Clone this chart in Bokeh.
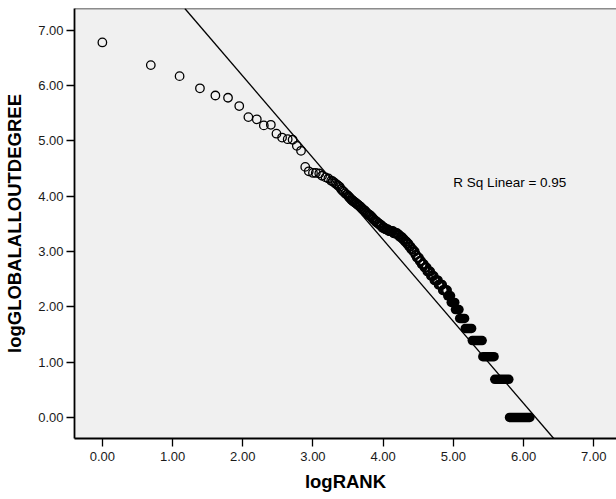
from bokeh.plotting import figure
from bokeh.models import FixedTicker, PrintfTickFormatter, Span, Slope, Label
from bokeh.embed import file_html
from bokeh.resources import INLINE

# ---- data (natural logs) ----
log_rank = [0.00, 0.69, 1.10, 1.39, 1.61, 1.79, 1.95, 2.08, 2.20, 2.30,
            2.40, 2.48, 2.56, 2.64, 2.71, 2.77, 2.83, 2.89, 2.94, 3.00,
            3.04, 3.09, 3.13, 3.18, 3.22, 3.26,
            3.28, 3.30, 3.32, 3.34, 3.36, 3.38, 3.40, 3.42, 3.44, 3.46,
            3.48,
            3.50, 3.51, 3.52, 3.53, 3.54, 3.55, 3.56, 3.57, 3.58, 3.59,
            3.60, 3.61, 3.62, 3.63, 3.64, 3.65, 3.66, 3.67, 3.68, 3.69,
            3.70, 3.71, 3.72, 3.73, 3.74, 3.75, 3.76, 3.77, 3.78, 3.79,
            3.80, 3.81, 3.82, 3.83, 3.84, 3.85, 3.86, 3.87, 3.88, 3.89,
            3.90, 3.91, 3.92, 3.93, 3.94, 3.95, 3.96, 3.97, 3.98, 3.99,
            4.00, 4.01, 4.02, 4.03, 4.04, 4.05, 4.06, 4.07, 4.08, 4.09,
            4.10, 4.11, 4.12, 4.13, 4.14, 4.15, 4.16, 4.17, 4.18, 4.19,
            4.20, 4.21, 4.22, 4.23, 4.24, 4.25, 4.26, 4.27, 4.28, 4.29,
            4.30, 4.31, 4.32, 4.33, 4.34, 4.35, 4.36, 4.37, 4.38, 4.39,
            4.40, 4.41, 4.42, 4.43, 4.44, 4.45, 4.46, 4.47, 4.48, 4.49,
            4.50, 4.51, 4.52, 4.53, 4.54, 4.55, 4.56, 4.57, 4.58, 4.59,
            4.60, 4.61, 4.62, 4.63, 4.64, 4.65, 4.66, 4.67, 4.68, 4.69,
            4.70, 4.71, 4.72, 4.73, 4.74, 4.75, 4.76, 4.77, 4.78, 4.79,
            4.80, 4.81, 4.82, 4.83, 4.84, 4.85, 4.86, 4.87, 4.88, 4.89,
            4.90, 4.91]
log_degree = [6.78, 6.37, 6.17, 5.95, 5.82, 5.78, 5.63, 5.43, 5.39, 5.28,
              5.29, 5.13, 5.06, 5.03, 5.02, 4.91, 4.82, 4.53, 4.45, 4.42,
              4.42, 4.41, 4.37, 4.34, 4.32, 4.28,
              4.27, 4.25, 4.23, 4.21, 4.19, 4.17, 4.13, 4.10, 4.08, 4.05,
              4.03,
              4.01, 3.99, 3.97, 3.97, 3.95, 3.93, 3.93, 3.91, 3.91, 3.89,
              3.89, 3.87, 3.87, 3.85, 3.85, 3.83, 3.83, 3.81, 3.81, 3.78,
              3.78, 3.76, 3.76, 3.74, 3.74, 3.71, 3.71, 3.69, 3.69, 3.66,
              3.66, 3.66, 3.64, 3.64, 3.61, 3.61, 3.58, 3.58, 3.56, 3.56,
              3.53, 3.53, 3.53, 3.50, 3.50, 3.50, 3.47, 3.47, 3.47, 3.43,
              3.43, 3.43, 3.43, 3.40, 3.40, 3.40, 3.40, 3.40, 3.37, 3.37,
              3.37, 3.37, 3.37, 3.37, 3.37, 3.33, 3.33, 3.33, 3.33, 3.33,
              3.33, 3.30, 3.30, 3.30, 3.26, 3.26, 3.26, 3.26, 3.22, 3.22,
              3.22, 3.18, 3.18, 3.18, 3.14, 3.14, 3.14, 3.09, 3.09, 3.09,
              3.04, 3.04, 3.04, 3.00, 3.00, 3.00, 2.94, 2.94, 2.89, 2.89,
              2.89, 2.89, 2.83, 2.83, 2.83, 2.77, 2.77, 2.77, 2.77, 2.71,
              2.71, 2.71, 2.71, 2.64, 2.64, 2.64, 2.64, 2.64, 2.56, 2.56,
              2.56, 2.56, 2.56, 2.48, 2.48, 2.48, 2.48, 2.48, 2.48, 2.40,
              2.40, 2.40, 2.40, 2.40, 2.40, 2.30, 2.30, 2.30, 2.30, 2.30,
              2.30, 2.30]

# tied runs of equal degree (log degree, first and last log rank)
level_log_degree = [2.20, 2.08, 1.95, 1.79, 1.61, 1.39, 1.10, 0.69, 0.00]
level_rank_start = [4.92, 4.97, 5.03, 5.09, 5.17, 5.27, 5.42, 5.59, 5.80]
level_rank_end   = [4.96, 5.02, 5.08, 5.16, 5.26, 5.41, 5.58, 5.79, 6.09]

# linear fit
fit_intercept = 9.13
fit_slope = -1.479
r_sq_text = "R Sq Linear = 0.95"

axis_ticks = [0, 1, 2, 3, 4, 5, 6, 7]

FONT = "Liberation Sans"

p = figure(width=616, height=498, output_backend="svg", toolbar_location=None,
           x_range=(-0.397, 7.324), y_range=(-0.38, 7.393),
           min_border_left=74, min_border_right=0, min_border_top=8,
           min_border_bottom=60)
p.background_fill_color = "#F0F0F0"
p.border_fill_color = "white"
p.outline_line_color = None
p.xgrid.visible = False
p.ygrid.visible = False

for ax in (p.xaxis, p.yaxis):
    ax.ticker = FixedTicker(ticks=axis_ticks)
    ax.formatter = PrintfTickFormatter(format="%.2f")
    ax.minor_tick_line_color = None
    ax.major_tick_in = 0
    ax.major_tick_out = 8
    ax.major_tick_line_color = "black"
    ax.major_tick_line_width = 1.3
    ax.axis_line_color = "black"
    ax.axis_line_width = 1.8
    ax.major_label_text_font = FONT
    ax.major_label_text_font_size = "13px"
    ax.major_label_text_color = "#1a1a1a"
    ax.axis_label_text_font = FONT
    ax.axis_label_text_font_size = "18.5px"
    ax.axis_label_text_font_style = "bold"
    ax.axis_label_text_color = "black"

p.xaxis.axis_label = "logRANK"
p.yaxis.axis_label = "logGLOBALALLOUTDEGREE"
p.xaxis.major_label_standoff = 5
p.yaxis.major_label_standoff = 3
p.xaxis.axis_label_standoff = 7
p.yaxis.axis_label_standoff = 10

# top frame line
p.add_layout(Span(location=7.393, dimension="width", line_color="#222222", line_width=1.6))

# fit line
p.add_layout(Slope(gradient=fit_slope, y_intercept=fit_intercept,
                   line_color="black", line_width=1.3))

# tied runs (overlapping circles form solid pills)
p.segment(x0=level_rank_start, y0=level_log_degree, x1=level_rank_end, y1=level_log_degree,
          line_color="black", line_width=9.5, line_cap="round")

# individual points
p.scatter(x=log_rank, y=log_degree, size=8.5, marker="circle",
          fill_color=None, line_color="black", line_width=1.3)

p.add_layout(Label(x=5.0, y=4.255, text=r_sq_text, text_font=FONT,
                   text_font_size="13.5px", text_baseline="middle", text_color="black"))

open("out.html", "w").write(file_html(p, INLINE))
